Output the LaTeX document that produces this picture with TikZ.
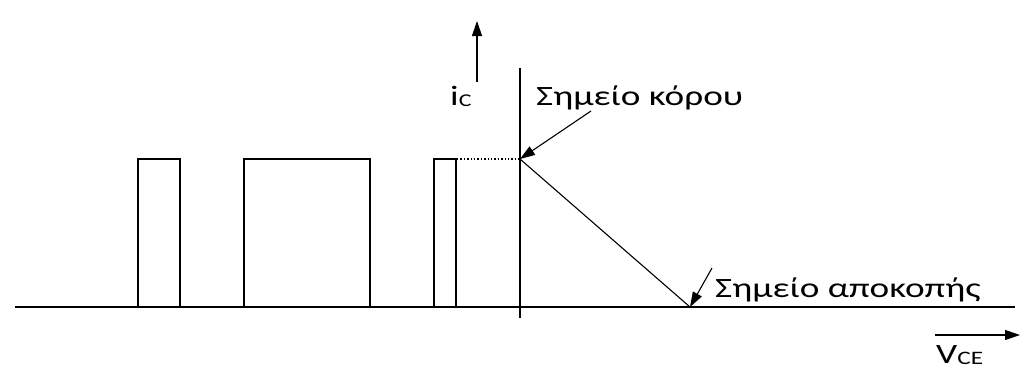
\documentclass[tikz,border=0pt]{standalone}
\usepackage{fontspec}
\setmainfont{Carlito}
\usetikzlibrary{arrows.meta}
\newcommand{\wide}[1]{\scalebox{1.33}[1]{#1}}
\begin{document}
\begin{tikzpicture}[x=1pt,y=-1pt,
  ln/.style={line width=1.6pt,black},
  thin/.style={line width=1.1pt,black},
  arr/.style={-{Triangle[length=15pt,width=10pt]}},
  lbl/.style={inner sep=0pt,font=\fontsize{28}{30}\selectfont}]
\useasboundingbox (0,0) rectangle (1028,389);
% axes
\coordinate (axL) at (15,307);
\coordinate (axR) at (1015,307);
\draw[ln] (axL) -- (axR);
\coordinate (vT) at (520,68);
\coordinate (vB) at (520,318);
\draw[ln] (vT) -- (vB);
% pulses
\draw[ln] (138,307) |- (180,159) -- (180,307);
\draw[ln] (244,307) |- (370,159) -- (370,307);
\draw[ln] (434,307) |- (456,159) -- (456,307);
% saturation point, dotted line, load line
\coordinate (sat) at (520,159);
\coordinate (cut) at (690,307);
\coordinate (dotL) at (457,159);
\draw[line width=1.4pt,dotted] (dotL) -- (sat);
\draw[thin] (sat) -- (cut);
% i_C arrow
\coordinate (iB) at (477,82);
\coordinate (iT) at (477,21);
\draw[thin,arr] (iB) -- (iT);
\node[lbl,anchor=base west] (ic) at (450,105) {\wide{i\raisebox{-1pt}{\fontsize{18}{20}\selectfont C}}};
% labels
\node[lbl,anchor=base west] (korou) at (536,105) {\wide{Σημείο κόρου}};
\node[lbl,anchor=base west] (apok) at (715,297) {\wide{Σημείο αποκοπής}};
\coordinate (a1) at (591,111);
\draw[thin,arr] (a1) -- (sat);
\coordinate (a2) at (712,268);
\draw[thin,arr] (a2) -- (cut);
% V_CE
\coordinate (vL) at (935,335);
\coordinate (vR) at (1020,335);
\draw[thin,arr] (vL) -- (vR);
\node[lbl,anchor=base west] (vce) at (936,363) {\wide{V\raisebox{-1pt}{\fontsize{19}{21}\selectfont CE}}};
\end{tikzpicture}
\end{document}
